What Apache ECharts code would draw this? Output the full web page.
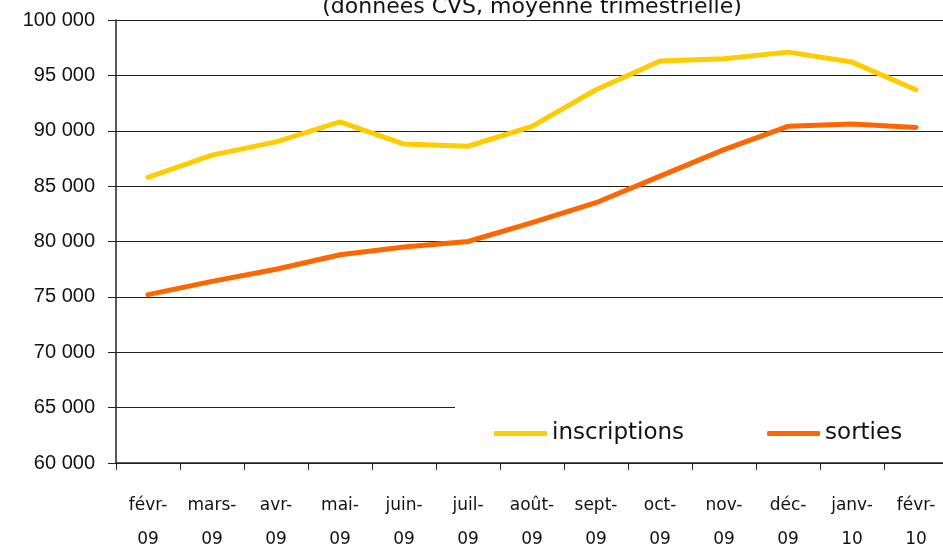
<!DOCTYPE html>
<html>
<head>
<meta charset="utf-8">
<script src="https://cdn.jsdelivr.net/npm/echarts@6/dist/echarts.min.js"></script>
<style>
  html, body { margin: 0; padding: 0; background: #fff; }
  #chart { width: 943px; height: 549px; }
</style>
</head>
<body>
<div id="chart"></div>
<script>
// mois (deux lignes : mois / année)
var months = ['févr-\n09', 'mars-\n09', 'avr-\n09', 'mai-\n09', 'juin-\n09', 'juil-\n09', 'août-\n09',
  'sept-\n09', 'oct-\n09', 'nov-\n09', 'déc-\n09', 'janv-\n10', 'févr-\n10']
var inscriptions = [85800, 87800, 89000, 90800, 88800, 88600, 90400, 93700, 96300, 96500, 97100, 96200, 93700]
var sorties = [75200, 76400, 77500, 78800, 79500, 80000, 81700, 83500, 85900, 88300, 90400, 90600, 90300]

var chart = echarts.init(document.getElementById('chart'))

function fmt(v) {
  // espace comme séparateur des milliers
  return String(v).replace(/\B(?=(\d{3})+(?!\d))/g, ' ')
}

chart.setOption({
  animation: false,
  title: {
    text: '(données CVS, moyenne trimestrielle)',
    left: 527,
    textAlign: 'center',
    top: -9,
    textStyle: {
      fontFamily: 'DejaVu Sans',
      fontSize: 22,
      fontWeight: 'normal',
      color: '#111'
    }
  },
  legend: {
    left: 455,
    top: 403,
    width: 500,
    padding: [19, 60, 5, 39],
    backgroundColor: '#fff',
    itemWidth: 53,
    itemHeight: 5,
    itemGap: 83,
    data: [
      { name: 'inscriptions', icon: 'roundRect' },
      { name: 'sorties', icon: 'roundRect' }
    ],
    textStyle: {
      fontFamily: 'DejaVu Sans',
      fontSize: 23,
      color: '#111'
    }
  },
  grid: {
    left: 116,
    top: 20,
    width: 832,
    height: 443,
    outerBoundsMode: 'none'
  },
  xAxis: {
    type: 'category',
    data: months,
    boundaryGap: true,
    axisLine: { lineStyle: { color: '#222', width: 1.5 } },
    axisTick: { show: true, length: 7, lineStyle: { color: '#222' } },
    axisLabel: {
      margin: 26,
      interval: 0,
      fontFamily: 'DejaVu Sans',
      fontSize: 17,
      lineHeight: 34,
      color: '#111'
    },
    splitLine: { show: false }
  },
  yAxis: {
    type: 'value',
    min: 60000,
    max: 100000,
    interval: 5000,
    axisLine: { show: true, lineStyle: { color: '#222', width: 1.5 } },
    axisTick: { show: true, length: 8, lineStyle: { color: '#222' } },
    axisLabel: {
      margin: 21,
      fontFamily: 'Liberation Sans',
      fontSize: 20,
      color: '#111',
      formatter: fmt
    },
    splitLine: {
      show: true,
      lineStyle: { color: '#222', width: 1 }
    }
  },
  series: [
    {
      name: 'inscriptions',
      type: 'line',
      data: inscriptions,
      showSymbol: false,
      symbol: 'none',
      lineStyle: { color: '#FFCC00', width: 5, cap: 'round', join: 'round' },
      itemStyle: { color: '#FFCC00' }
    },
    {
      name: 'sorties',
      type: 'line',
      data: sorties,
      showSymbol: false,
      symbol: 'none',
      lineStyle: { color: '#FF6600', width: 5, cap: 'round', join: 'round' },
      itemStyle: { color: '#FF6600' }
    }
  ]
})
</script>
</body>
</html>
